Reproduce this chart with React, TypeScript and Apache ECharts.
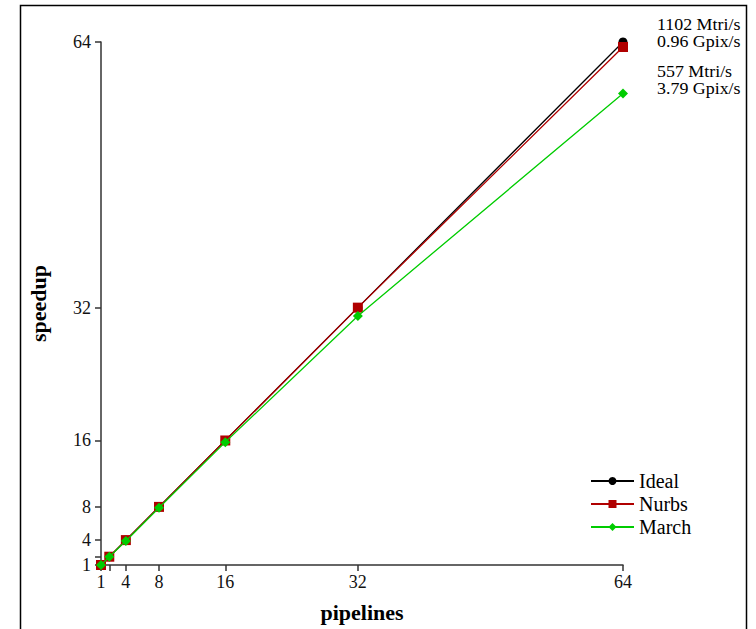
import React, { useEffect, useRef } from "react";
import * as echarts from "echarts";

const pipelines = [1, 2, 4, 8, 16, 32, 64];
const ideal = [1, 2, 4, 8, 16, 32, 64];
const nurbs = [1, 2, 4, 8, 16, 32, 63.4];
const march = [1, 2, 3.9, 7.9, 15.8, 31.0, 57.8];
const tickValues = [1, 2, 4, 8, 16, 32, 64];
const labelValues = [1, 4, 8, 16, 32, 64];
const noteTop = ["1102 Mtri/s", "0.96 Gpix/s"];
const noteBottom = ["557 Mtri/s", "3.79 Gpix/s"];

const FONT = "'Liberation Serif', 'Times New Roman', serif";

export default function App() {
  const ref = useRef<HTMLDivElement>(null);
  useEffect(() => {
    document.body.style.margin = "0";
    const chart = echarts.init(ref.current!, null, { renderer: "svg" });
    const mk = (vals: number[]) => pipelines.map((p, i) => [p, vals[i]]);
    const axisCommon = {
      type: "value",
      min: 1,
      max: 64,
      splitLine: { show: false },
      axisLine: { show: true, lineStyle: { color: "#333", width: 1.5 } },
      axisTick: {
        show: true,
        length: 6,
        customValues: tickValues,
        lineStyle: { color: "#333", width: 1.5 },
      },
      axisLabel: {
        customValues: labelValues,
        color: "#111",
        fontFamily: FONT,
        fontSize: 18,
      },
      nameTextStyle: { fontFamily: FONT, fontSize: 22, fontWeight: "bold", color: "#000" },
    };
    const notes = [...noteTop, ...noteBottom].map((t, i) => ({
      type: "text",
      left: 657,
      top: [17, 34, 64, 81][i],
      style: { text: t, font: `16px ${FONT}`, fill: "#000", width: 88, overflow: "none" },
      scaleX: 1.12,
    }));
    chart.setOption({
      animation: false,
      textStyle: { fontFamily: FONT },
      grid: { left: 101, right: 133, top: 42, bottom: 64, containLabel: false },
      xAxis: {
        ...axisCommon,
        name: "pipelines",
        nameLocation: "middle",
        nameGap: 36,
        axisLabel: { ...axisCommon.axisLabel, margin: 8 },
      },
      yAxis: {
        ...axisCommon,
        name: "speedup",
        nameLocation: "middle",
        nameGap: 52,
        nameRotate: 90,
        axisLabel: { ...axisCommon.axisLabel, margin: 10 },
      },
      legend: {
        orient: "vertical",
        left: 585,
        top: 466,
        itemWidth: 43,
        itemHeight: 10,
        itemGap: 3,
        textStyle: { fontFamily: FONT, fontSize: 20, lineHeight: 20, color: "#000" },
        data: ["Ideal", "Nurbs", "March"],
      },
      graphic: [
        {
          type: "rect",
          shape: { x: 20.5, y: 5.5, width: 726, height: 700 },
          style: { fill: "none", stroke: "#000", lineWidth: 1.5 },
          silent: true,
        },
        ...notes,
      ],
      series: [
        {
          name: "Ideal",
          type: "line",
          data: mk(ideal),
          symbol: "circle",
          symbolSize: 9,
          itemStyle: { color: "#000" },
          lineStyle: { color: "#000", width: 1.3 },
          z: 1,
        },
        {
          name: "Nurbs",
          type: "line",
          data: mk(nurbs),
          symbol: "rect",
          symbolSize: 10,
          itemStyle: { color: "#b00000" },
          lineStyle: { color: "#b00000", width: 1.3 },
          z: 2,
        },
        {
          name: "March",
          type: "line",
          data: mk(march),
          symbol: "diamond",
          symbolSize: 10,
          itemStyle: { color: "#00cc00" },
          lineStyle: { color: "#00cc00", width: 1.3 },
          z: 3,
        },
      ],
    });
    return () => chart.dispose();
  }, []);
  return <div ref={ref} style={{ width: 756, height: 629 }} />;
}
